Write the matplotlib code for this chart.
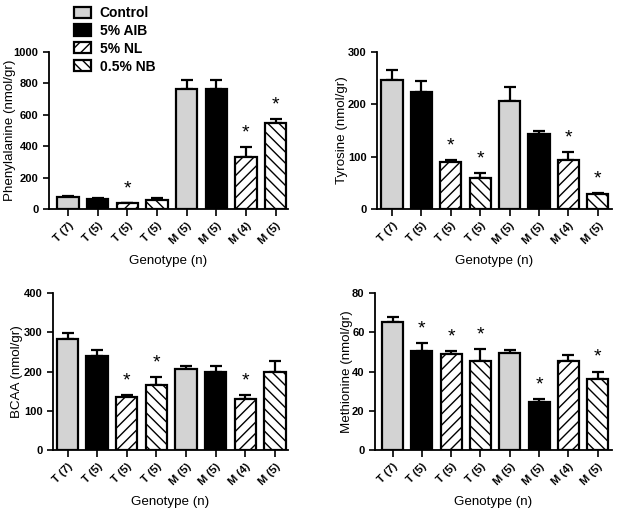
import numpy as np
import matplotlib.pyplot as plt
from matplotlib.patches import Patch

plt.rcParams["font.family"] = ["Liberation Sans", "DejaVu Sans"]
plt.rcParams["hatch.linewidth"] = 1.0

genotypes = ["T (7)", "T (5)", "T (5)", "T (5)", "M (5)", "M (5)", "M (4)", "M (5)"]
diets = ["Control", "5% AIB", "5% NL", "0.5% NB"]
diet_idx = [0, 1, 2, 3, 0, 1, 2, 3]

phe = [79, 63, 36, 59, 762, 762, 333, 550]
phe_err = [3, 5, 3, 8, 58, 58, 64, 21]
phe_star = [0, 0, 1, 0, 0, 0, 1, 1]

tyr = [246, 224, 90, 60, 206, 144, 94, 29]
tyr_err = [20, 21, 4, 9, 28, 6, 15, 2]
tyr_star = [0, 0, 1, 1, 0, 0, 1, 1]

bcaa = [283, 239, 136, 166, 207, 198, 130, 200]
bcaa_err = [15, 15, 4, 20, 8, 17, 10, 26]
bcaa_star = [0, 0, 1, 1, 0, 0, 1, 0]

met = [65, 50.2, 48.9, 45.4, 49.4, 24.3, 45.4, 36.1]
met_err = [2.7, 4.3, 1.3, 6, 1.6, 1.7, 3.1, 3.9]
met_star = [0, 1, 1, 1, 0, 1, 0, 1]

fills = ["#d3d3d3", "black", "white", "white"]
hatches = [None, None, "///", "\\\\\\"]

W, H = 618, 513
fig = plt.figure(figsize=(W / 100, H / 100), dpi=100)


def px_axes(left, right, top, bottom):
    return fig.add_axes([left / W, 1 - bottom / H, (right - left) / W, (bottom - top) / H])


panels = [
    (px_axes(49, 288, 52, 209), phe, phe_err, phe_star, 1000, 200, "Phenylalanine (nmol/gr)", (-0.64, 7.42), -0.163),
    (px_axes(377, 612, 52, 209), tyr, tyr_err, tyr_star, 300, 100, "Tyrosine (nmol/gr)", (-0.51, 7.48), -0.15),
    (px_axes(53, 288, 293, 450), bcaa, bcaa_err, bcaa_star, 400, 100, "BCAA (nmol/gr)", (-0.49, 7.44), -0.154),
    (px_axes(375, 612, 293, 450), met, met_err, met_star, 80, 20, "Methionine (nmol/gr)", (-0.6, 7.49), -0.12),
]

x = np.arange(len(genotypes))
for ax, vals, errs, stars, ymax, ystep, ylabel, xlim, ylab_x in panels:
    for i in x:
        d = diet_idx[i]
        ax.bar(i, vals[i], width=0.72, color=fills[d], hatch=hatches[d],
               edgecolor="black", linewidth=1.6, zorder=2)
        ax.errorbar(i, vals[i], yerr=[[0], [errs[i]]], color="black",
                    elinewidth=1.6, capsize=4.5, capthick=1.6, zorder=1)
        if stars[i]:
            ax.annotate("*", (i, vals[i] + errs[i]), xytext=(0, 4),
                        textcoords="offset points", ha="center", va="bottom",
                        fontsize=14)
    ax.set_xlim(*xlim)
    ax.set_ylim(0, ymax)
    ax.set_yticks(np.arange(0, ymax + 1, ystep))
    ax.set_xticks(x)
    ax.set_xticklabels(genotypes, rotation=45, ha="right", rotation_mode="anchor",
                       fontweight="bold")
    for lab in ax.get_yticklabels():
        lab.set_fontweight("bold")
    ax.tick_params(axis="both", labelsize=8, width=1.2, length=4, direction="out")
    ax.tick_params(axis="x", length=5)
    for side in ["top", "right"]:
        ax.spines[side].set_visible(False)
    for side in ["left", "bottom"]:
        ax.spines[side].set_linewidth(1.3)
    ax.set_ylabel(ylabel, fontsize=9.6, va="center")
    ax.yaxis.set_label_coords(ylab_x, 0.5)
    ax.set_xlabel("Genotype (n)", fontsize=9.6, labelpad=6)

handles = [Patch(facecolor=fills[k], edgecolor="black", hatch=hatches[k], linewidth=1.6)
           for k in range(4)]
fig.legend(handles, diets, loc="upper left", bbox_to_anchor=(67 / W, 1 + 1 / H),
           frameon=False, borderpad=0, handlelength=1.25, handleheight=0.85,
           handletextpad=0.6, labelspacing=0.28,
           prop={"weight": "bold", "size": 10})

fig.savefig("out.png", dpi=100)
